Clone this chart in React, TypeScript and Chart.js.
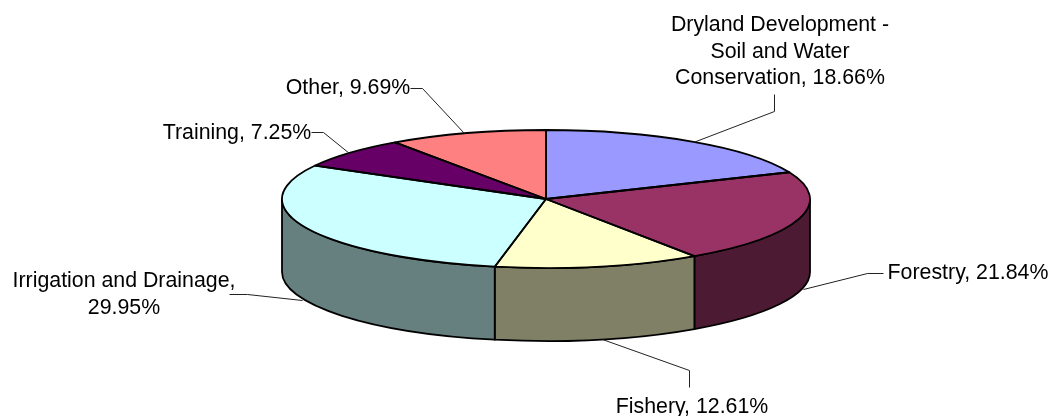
import React, { useEffect, useRef } from "react";
import { Chart, registerables } from "chart.js";

Chart.register(...registerables);

const categories = [
  "Dryland Development - Soil and Water Conservation",
  "Forestry",
  "Fishery",
  "Irrigation and Drainage",
  "Training",
  "Other",
];
const shares = [18.66, 21.84, 12.61, 29.95, 7.25, 9.69];
const topColors = ["#9999FF", "#993366", "#FFFFCC", "#CCFFFF", "#660066", "#FF8080"];
const sideColors = ["#4D4D80", "#4D1A33", "#808066", "#668080", "#330033", "#804040"];

const labelLines = [
  ["Dryland Development -", "Soil and Water", "Conservation, 18.66%"],
  ["Forestry, 21.84%"],
  ["Fishery, 12.61%"],
  ["Irrigation and Drainage,", "29.95%"],
  ["Training, 7.25%"],
  ["Other, 9.69%"],
];
const labelCentres = [
  [780, 25],
  [968, 273],
  [692, 407],
  [124, 281],
  [237, 133],
  [348, 88],
];
const leaderLines = [
  [[774, 94], [774, 111], [693, 142]],
  [[883, 273], [867, 273], [803, 289]],
  [[689, 387], [689, 370], [602, 339]],
  [[229, 294], [247, 294], [302, 300]],
  [[311, 132], [323, 132], [349, 153]],
  [[410, 88], [422, 88], [464, 133]],
];

const RADIUS = 264;
const SQUASH = 69 / 264;
const DEPTH = 73;
const FONT = '21.33px "Liberation Sans", Arial, sans-serif';

const tiltPlugin = {
  id: "tilt",
  beforeDatasetsDraw(chart: any) {
    const ctx = chart.ctx;
    const arcs = chart.getDatasetMeta(0).data;
    const { x: cx, y: cy, outerRadius: rx } = arcs[0].getProps(["x", "y", "outerRadius"]);
    const ry = rx * SQUASH;
    ctx.save();
    ctx.lineWidth = 1.8;
    ctx.strokeStyle = "#000";
    ctx.lineJoin = "round";
    arcs.forEach((arc: any, i: number) => {
      const a = Math.max(arc.startAngle, 0);
      const b = Math.min(arc.endAngle, Math.PI);
      if (b <= a) return;
      ctx.beginPath();
      ctx.ellipse(cx, cy, rx, ry, 0, a, b);
      ctx.ellipse(cx, cy + DEPTH, rx, ry, 0, b, a, true);
      ctx.closePath();
      ctx.fillStyle = sideColors[i];
      ctx.fill();
      ctx.stroke();
    });
    ctx.restore();
    ctx.save();
    ctx.translate(cx, cy);
    ctx.scale(1, SQUASH);
    ctx.translate(-cx, -cy);
  },
  afterDatasetsDraw(chart: any) {
    const ctx = chart.ctx;
    ctx.restore();
    const arcs = chart.getDatasetMeta(0).data;
    ctx.save();
    ctx.lineWidth = 1.8;
    ctx.strokeStyle = "#000";
    ctx.lineJoin = "round";
    arcs.forEach((arc: any) => {
      const ry = arc.outerRadius * SQUASH;
      ctx.beginPath();
      ctx.moveTo(arc.x, arc.y);
      ctx.ellipse(arc.x, arc.y, arc.outerRadius, ry, 0, arc.startAngle, arc.endAngle);
      ctx.closePath();
      ctx.stroke();
    });
    ctx.lineWidth = 1;
    ctx.strokeStyle = "#222";
    leaderLines.forEach((line) => {
      ctx.beginPath();
      line.forEach(([x, y], j) => {
        if (j === 0) ctx.moveTo(x + 0.5, y + 0.5);
        else ctx.lineTo(x + 0.5, y + 0.5);
      });
      ctx.stroke();
    });
    ctx.font = FONT;
    ctx.fillStyle = "#000";
    ctx.textAlign = "center";
    ctx.textBaseline = "middle";
    labelLines.forEach((lines, i) => {
      lines.forEach((text, j) => {
        ctx.fillText(text, labelCentres[i][0], labelCentres[i][1] + j * 26.75);
      });
    });
    ctx.restore();
  },
};

export default function App() {
  const ref = useRef<HTMLCanvasElement | null>(null);
  useEffect(() => {
    const chart = new Chart(ref.current as HTMLCanvasElement, {
      type: "pie",
      data: {
        labels: categories,
        datasets: [
          {
            data: shares,
            backgroundColor: topColors,
            borderWidth: 0,
            clip: false,
          } as any,
        ],
      },
      options: {
        responsive: false,
        animation: false,
        radius: RADIUS,
        layout: { padding: { left: 40, bottom: 18 } },
        plugins: { legend: { display: false }, tooltip: { enabled: false } },
      } as any,
      plugins: [tiltPlugin],
    });
    return () => chart.destroy();
  }, []);
  return (
    <canvas
      ref={ref}
      width={1052}
      height={416}
      style={{ position: "absolute", left: 0, top: 0, width: 1052, height: 416, display: "block" }}
    />
  );
}
